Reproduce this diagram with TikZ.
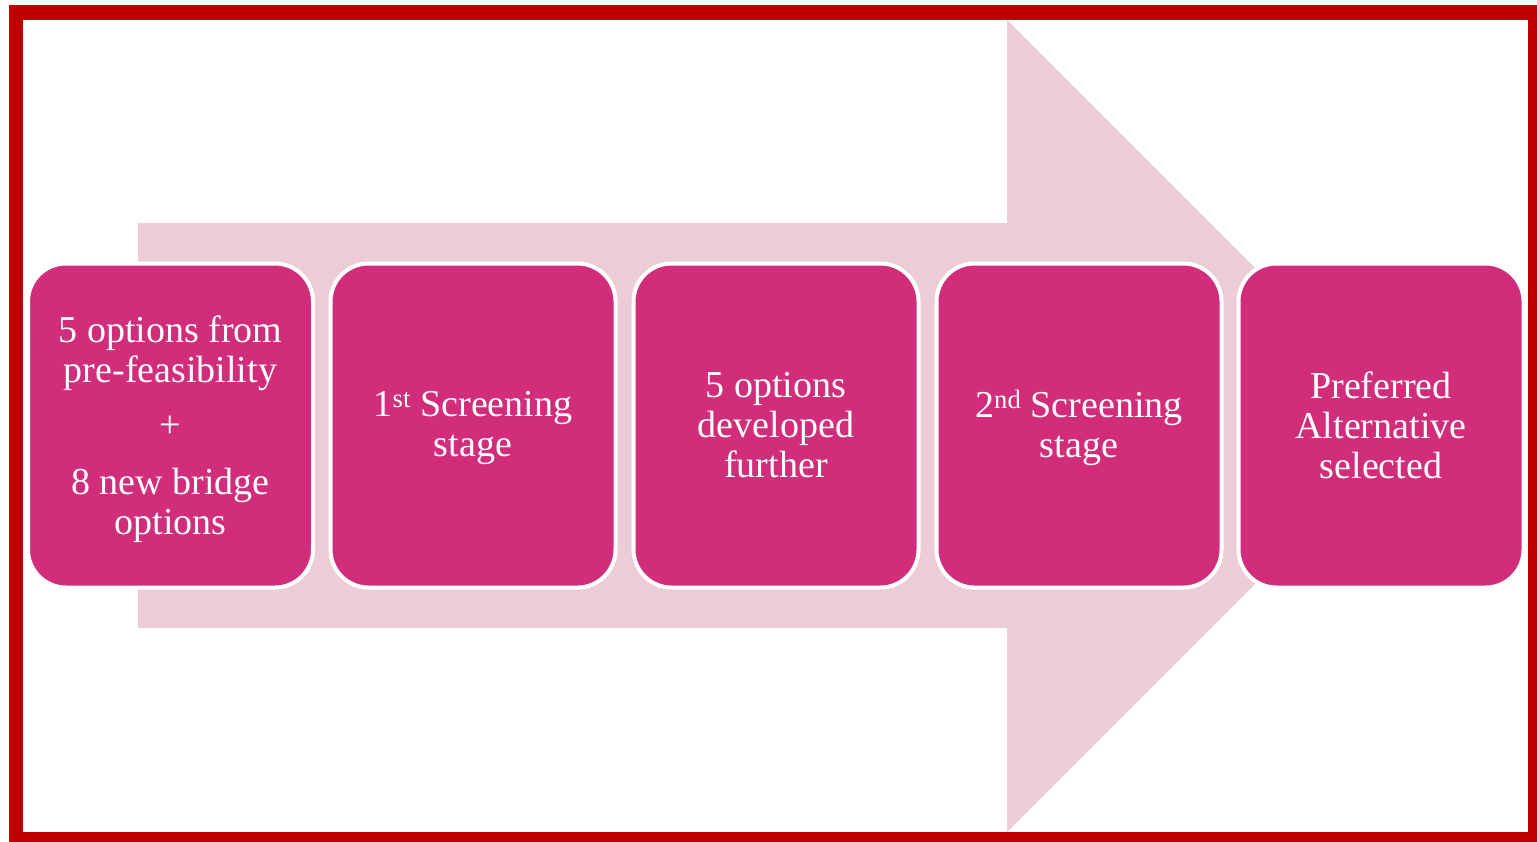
\documentclass[tikz,border=0pt]{standalone}
\usepackage{fontspec}
\setmainfont{Liberation Serif}
\definecolor{framered}{HTML}{C00000}
\definecolor{arrowpink}{HTML}{EDCDD5}
\definecolor{stagefill}{HTML}{D22D7A}
\begin{document}
\begin{tikzpicture}[x=1pt,y=-1pt,
  stagebox/.style={draw=white, line width=4pt, fill=stagefill, rounded corners=38pt,
    minimum width=285pt, minimum height=324pt, inner sep=0pt},
  stagetext/.style={inner sep=0pt, text=white, align=center,
    font=\fontsize{38}{40}\selectfont}]
  \useasboundingbox (0,0) rectangle (1537,841);
  \fill[white] (0,0) rectangle (1537,841);
  % large background arrow
  \fill[arrowpink] (138,223) -- (1007,223) -- (1007,20) -- (1413,426)
    -- (1007,832) -- (1007,628) -- (138,628) -- cycle;
  % process stages
  \node[stagebox] (b1) at (170.5,425.5) {};
  \node[stagebox] (b2) at (473,425.5) {};
  \node[stagebox] (b3) at (776,425.5) {};
  \node[stagebox] (b4) at (1079,425.5) {};
  \node[stagebox] (b5) at (1381,425.5) {};
  % stage labels
  \node[stagetext] (t1) at ([yshift=-4pt]b1.center) {5 options from\\pre-feasibility\\[15pt]+\\[17pt]8 new bridge\\options};
  \node[stagetext] (t2) at ([yshift=-3pt]b2.center) {1\textsuperscript{st} Screening\\stage};
  \node[stagetext] (t3) at (b3.center) {5 options\\developed\\further};
  \node[stagetext] (t4) at ([yshift=-2pt]b4.center) {2\textsuperscript{nd} Screening\\stage};
  \node[stagetext] (t5) at (b5.center) {Preferred\\Alternative\\selected};
  % outer frame
  \draw[framered, line width=14.5pt] (16,12.5) rectangle (1535,839);
\end{tikzpicture}
\end{document}
